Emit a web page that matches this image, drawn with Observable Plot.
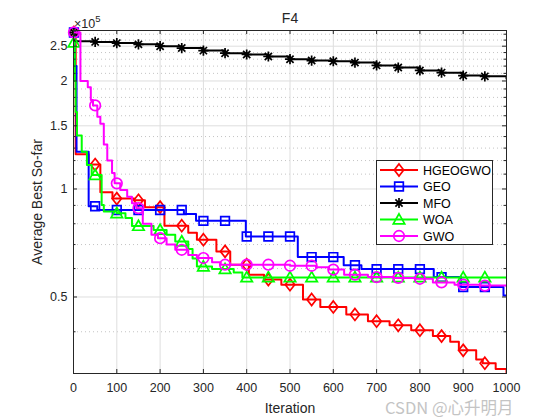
<!DOCTYPE html>
<html><head><meta charset="utf-8">
<script src="https://cdn.jsdelivr.net/npm/d3@7"></script>
<script src="https://cdn.jsdelivr.net/npm/@observablehq/plot@0.6"></script>
<style>body{margin:0;background:#fff}</style>
</head><body><div id="chart"></div>
<script>
// values in units of 1e5, [iteration, average best so far]
const HGEOGWO = [[1,2.73],[5,1.25],[35,1.17],[62,0.98],[90,0.94],[140,0.93],[165,0.89],[210,0.79],[265,0.755],[285,0.722],[330,0.67],[362,0.615],[405,0.577],[440,0.559],[480,0.541],[530,0.492],[570,0.469],[630,0.447],[680,0.428],[730,0.417],[780,0.404],[830,0.389],[870,0.375],[890,0.355],[930,0.335],[945,0.327],[975,0.315],[1000,0.308]];
const GEO = [[1,2.73],[3,2.2],[7,1.27],[35,0.895],[55,0.874],[255,0.852],[283,0.815],[398,0.737],[518,0.646],[624,0.613],[665,0.598],[832,0.568],[895,0.533],[993,0.505],[1000,0.505]];
const MFO = [[1,2.73],[2,2.58],[50,2.57],[100,2.55],[150,2.53],[200,2.50],[250,2.47],[300,2.43],[350,2.39],[400,2.37],[450,2.34],[500,2.30],[550,2.28],[600,2.27],[650,2.25],[700,2.21],[750,2.18],[800,2.14],[850,2.11],[900,2.07],[950,2.06],[1000,2.03]];
const WOA = [[1,2.56],[3,2.0],[5,1.64],[8,1.41],[19,1.27],[31,1.166],[42,1.094],[65,0.903],[70,0.865],[100,0.856],[120,0.83],[135,0.789],[185,0.769],[215,0.745],[235,0.714],[265,0.68],[275,0.64],[285,0.608],[320,0.598],[370,0.585],[390,0.567],[1000,0.565]];
const GWO = [[1,2.73],[16,2.0],[33,1.92],[40,1.77],[45,1.71],[55,1.59],[62,1.52],[70,1.33],[78,1.20],[89,1.108],[95,1.037],[108,0.994],[124,0.952],[135,0.912],[145,0.884],[160,0.80],[180,0.745],[195,0.729],[215,0.70],[235,0.677],[265,0.655],[285,0.642],[320,0.625],[340,0.615],[500,0.611],[560,0.605],[590,0.596],[625,0.577],[680,0.568],[740,0.565],[790,0.562],[830,0.549],[880,0.541],[940,0.538],[1000,0.536]];

const seriesNames = ["HGEOGWO","GEO","MFO","WOA","GWO"];
const seriesData = [HGEOGWO, GEO, MFO, WOA, GWO];
const seriesColors = ["#ff0000","#0000ff","#000000","#00ff00","#ff00ff"];
const markerIters = [1,50,100,150,200,250,300,350,400,450,500,550,600,650,700,750,800,850,900,950];
const xTicks = [0,100,200,300,400,500,600,700,800,900,1000];
const yMajor = [0.5,1,1.5,2,2.5];
const yMinor = [0.4,0.6,0.7,0.8,0.9,1.1,1.2,1.3,1.4,1.6,1.7,1.8,1.9,2.1,2.2,2.3,2.4,2.6,2.7];
const yDomain = [0.306, 2.765];

const symbols = {
  diamond: {draw(c, s){const r=Math.sqrt(s/Math.PI); c.moveTo(0,-r); c.lineTo(0.78*r,0); c.lineTo(0,r); c.lineTo(-0.78*r,0); c.closePath();}},
  square: {draw(c, s){const r=Math.sqrt(s/Math.PI)*0.72; c.rect(-r,-r,2*r,2*r);}},
  asterisk: {draw(c, s){const r=Math.sqrt(s/Math.PI)*0.85, d=r*Math.SQRT1_2; c.moveTo(-r,0);c.lineTo(r,0);c.moveTo(0,-r);c.lineTo(0,r);c.moveTo(-d,-d);c.lineTo(d,d);c.moveTo(-d,d);c.lineTo(d,-d);}},
  triangle: {draw(c, s){const r=Math.sqrt(s/Math.PI); c.moveTo(0,-0.95*r); c.lineTo(0.95*r,0.72*r); c.lineTo(-0.95*r,0.72*r); c.closePath();}},
  circle: {draw(c, s){const r=Math.sqrt(s/Math.PI)*0.88; c.moveTo(r,0); c.arc(0,0,r,0,2*Math.PI);}}
};
const seriesSymbols = [symbols.diamond, symbols.square, symbols.asterisk, symbols.triangle, symbols.circle];

function valueAt(data, it){ let v = data[0][1]; for (const [i, val] of data) { if (i <= it) v = val; else break; } return v; }

const W = 560, H = 420, mL = 73, mR = 54, mT = 30, mB = 47;
const fw = W - mL - mR, fh = H - mT - mB;
const axisColor = "#262626";
const font = "'Liberation Sans', Arial, Helvetica, sans-serif";

const seriesMarks = [];
seriesData.forEach((data, k) => {
  const pts = data.map(([i, v]) => ({i, v}));
  const mk = markerIters.map(m => ({i: m, v: valueAt(data, m)}));
  seriesMarks.push(Plot.line(pts, {x: "i", y: "v", curve: "step-after", stroke: seriesColors[k], strokeWidth: 2, clip: true}));
  seriesMarks.push(Plot.dot(mk, {x: "i", y: "v", symbol: seriesSymbols[k], r: 6, stroke: seriesColors[k], fill: "none", strokeWidth: 1.7}));
});

const chart = Plot.plot({
  width: W, height: H,
  marginLeft: mL, marginRight: mR, marginTop: mT, marginBottom: mB,
  style: {fontFamily: font, fontSize: "12.5px", color: axisColor, background: "#fff", overflow: "visible"},
  x: {domain: [0, 1000]},
  y: {type: "log", domain: yDomain},
  marks: [
    Plot.ruleY(yMinor, {stroke: "#c4c4c4", strokeDasharray: "1,3"}),
    Plot.ruleY(yMajor, {stroke: "#dedede"}),
    Plot.ruleX(xTicks.slice(1, -1), {stroke: "#dedede"}),
    ...seriesMarks,
    Plot.frame({stroke: axisColor}),
    Plot.ruleX(xTicks, {insetTop: fh - 4, stroke: axisColor}),
    Plot.ruleX(xTicks, {insetBottom: fh - 4, stroke: axisColor}),
    Plot.ruleY(yMajor, {insetRight: fw - 4, stroke: axisColor}),
    Plot.ruleY(yMajor, {insetLeft: fw - 4, stroke: axisColor}),
    Plot.ruleY(yMinor, {insetRight: fw - 2.5, stroke: axisColor}),
    Plot.ruleY(yMinor, {insetLeft: fw - 2.5, stroke: axisColor}),
    Plot.axisX({ticks: xTicks, tickSize: 0, tickPadding: 10, tickFormat: d => String(d), label: null, fill: axisColor}),
    Plot.axisY({ticks: yMajor, tickSize: 0, tickPadding: 6, tickFormat: d => String(d), label: null, fill: axisColor}),
    Plot.text(["Iteration"], {frameAnchor: "bottom", dy: 35, textAnchor: "middle", lineAnchor: "middle", fontSize: 14, fill: axisColor}),
    Plot.text(["Average Best So-far"], {frameAnchor: "left", dx: -36, rotate: -90, textAnchor: "middle", lineAnchor: "middle", fontSize: 14, fill: axisColor}),
    Plot.text(["F4"], {frameAnchor: "top", dy: -12, textAnchor: "middle", lineAnchor: "middle", fontSize: 14, fill: axisColor})
  ]
});
document.getElementById("chart").appendChild(chart);

const svg = d3.select(chart);
// exponent label
const ex = svg.append("text").attr("x", mL + 1).attr("y", 28).attr("fill", axisColor)
  .attr("text-anchor", "start").attr("font-family", font).attr("font-size", 12.5);
ex.append("tspan").text("×10");
ex.append("tspan").attr("dy", -6).attr("font-size", 9.5).text("5");

// legend
const lg = svg.append("g").attr("font-family", font).attr("font-size", 12.5).attr("text-anchor", "start");
lg.append("rect").attr("x", 376.5).attr("y", 160.5).attr("width", 116).attr("height", 84)
  .attr("fill", "#fff").attr("stroke", axisColor).attr("stroke-width", 1);
seriesNames.forEach((name, k) => {
  const y = 170 + k * 16.5;
  lg.append("line").attr("x1", 380).attr("x2", 418).attr("y1", y).attr("y2", y)
    .attr("stroke", seriesColors[k]).attr("stroke-width", 2);
  lg.append("path").attr("transform", `translate(399,${y})`)
    .attr("d", d3.symbol(seriesSymbols[k], 36 * Math.PI)())
    .attr("fill", "none").attr("stroke", seriesColors[k]).attr("stroke-width", 1.7);
  lg.append("text").attr("x", 423).attr("y", y).attr("dy", "0.36em").attr("fill", "#000").text(name);
});

// watermark
svg.append("text").attr("x", 385).attr("y", 414).attr("font-size", 16.5).attr("text-anchor", "start")
  .attr("font-family", "'Noto Sans CJK SC', 'Noto Sans', sans-serif").attr("fill", "#c4c4c4")
  .text("CSDN @心升明月");
</script>
</body></html>
